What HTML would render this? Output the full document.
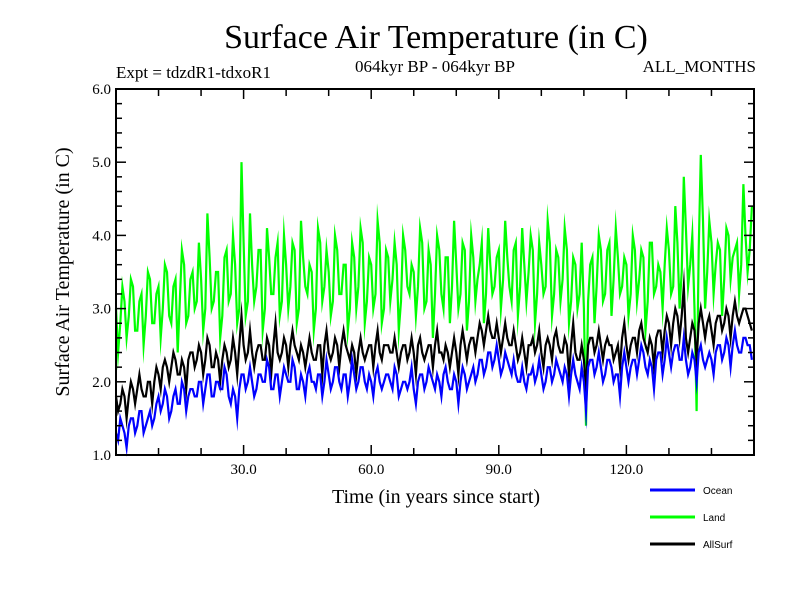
<!DOCTYPE html>
<html><head><meta charset="utf-8"><style>
body{margin:0;background:#fff;}
svg text{font-family:"Liberation Serif",serif;fill:#000;}
</style></head><body>
<svg id="chart" width="800" height="600" viewBox="0 0 800 600" xmlns="http://www.w3.org/2000/svg">
<rect width="800" height="600" fill="#fff"/>
<text x="436" y="48" font-size="34" text-anchor="middle">Surface Air Temperature (in C)</text>
<text x="116" y="78" font-size="17">Expt = tdzdR1-tdxoR1</text>
<text x="435" y="72" font-size="17" text-anchor="middle">064kyr BP - 064kyr BP</text>
<text x="756" y="72" font-size="17" text-anchor="end">ALL_MONTHS</text>
<text x="0" y="0" font-size="20" text-anchor="middle" transform="translate(69,272) rotate(-90)">Surface Air Temperature (in C)</text>
<text x="436" y="503" font-size="20" text-anchor="middle">Time (in years since start)</text>
<g id="series"></g>
<g id="axes"></g>
<g id="legend"></g>
</svg>
<script>
// values at mid-year (A) and start-of-year (B)
const landValues = [2.4,3.3,2.6,3.4,2.7,3.1,2.5,3.5,2.8,3.2,
2.6,3.6,2.9,3.3,2.4,3.8,2.8,3.4,3.0,3.9,
2.7,4.3,3.0,3.5,2.6,3.7,3.1,4.0,2.8,5.0,
2.9,4.3,3.1,3.8,2.7,4.1,3.2,3.7,2.9,4.0,
3.0,3.9,2.8,4.2,3.3,3.6,2.7,4.1,3.1,3.8,
2.9,4.0,3.2,3.6,2.7,3.9,3.0,4.1,2.8,3.7,
3.0,4.2,2.8,3.8,3.1,3.9,2.7,4.0,3.3,3.6,
2.9,4.1,3.0,3.8,2.6,4.0,3.2,3.7,2.8,4.2,
3.0,3.9,2.7,4.0,3.1,3.6,2.8,4.1,3.2,3.7,
3.0,4.2,3.3,3.8,2.9,4.1,3.1,4.0,2.8,3.9,
3.2,4.2,2.9,3.8,3.1,4.1,2.8,3.7,3.0,3.9,
1.4,3.6,2.8,4.0,3.1,3.8,2.9,4.1,3.2,3.7,
2.9,4.0,3.1,3.8,2.7,3.9,3.2,3.6,3.0,4.1,
3.2,4.4,3.0,4.8,3.3,4.0,1.6,5.1,3.0,4.2,
3.2,3.9,2.9,4.1,3.4,3.8,3.2,4.7,3.5,4.4];
const landValuesB = [3.0,2.8,3.1,2.9,3.3,2.7,3.2,2.9,3.4,2.8,
3.3,3.0,3.5,2.8,3.4,3.1,3.6,2.9,3.5,3.1,
3.4,3.0,3.7,3.1,3.5,2.9,3.8,3.2,3.6,3.0,
3.9,3.1,3.6,3.3,3.8,3.0,3.7,3.2,3.9,3.1,
3.6,3.3,3.8,3.0,3.7,3.2,3.5,3.0,3.9,3.3,
3.5,3.1,3.8,3.2,3.6,3.0,3.7,3.3,3.9,3.1,
3.6,3.2,3.9,3.0,3.7,3.4,3.6,3.1,3.8,3.2,
3.5,3.3,3.9,3.1,3.6,3.2,3.8,3.0,3.7,3.3,
3.6,3.2,3.8,3.1,3.7,3.4,3.9,3.2,3.6,3.3,
3.8,3.4,3.7,3.1,3.9,3.3,3.6,3.5,3.8,3.2,
3.6,3.3,3.9,3.2,3.7,3.4,3.8,3.1,3.6,3.2,
3.0,3.1,3.7,3.3,3.8,3.2,3.9,3.4,3.7,3.3,
3.6,3.2,3.8,3.4,3.7,3.1,3.9,3.3,3.5,3.6,
3.8,3.3,3.9,3.5,4.1,3.6,3.0,3.8,4.2,3.5,
3.9,3.6,3.8,3.4,4.0,3.7,3.9,3.6,4.0,3.8];
const oceanValues = [1.2,1.4,1.1,1.5,1.3,1.6,1.3,1.5,1.4,1.7,
1.6,1.9,1.5,1.8,1.7,2.0,1.6,1.9,1.8,2.0,
1.7,2.1,1.8,2.0,1.9,2.2,1.8,1.9,1.5,2.1,
1.9,2.2,1.8,2.1,2.0,2.3,1.9,2.1,1.8,2.2,
2.0,2.3,1.9,2.1,1.8,2.2,2.0,2.1,1.8,2.3,
1.9,2.2,2.0,2.1,1.8,2.3,1.9,2.2,2.0,2.1,
1.8,2.2,1.9,2.1,2.0,2.2,1.8,2.0,1.9,2.2,
1.7,2.1,1.9,2.2,2.0,2.1,1.8,2.2,1.9,2.1,
1.7,2.2,1.9,2.1,2.0,2.3,2.1,2.4,2.2,2.5,
2.1,2.4,2.2,2.3,2.0,2.2,1.9,2.1,2.0,2.3,
1.9,2.2,2.0,2.3,2.1,2.2,1.8,2.3,2.0,2.2,
1.6,2.3,2.1,2.4,2.0,2.3,2.2,2.1,1.8,2.4,
2.0,2.3,2.1,2.5,2.2,2.3,1.9,2.4,2.1,2.6,
2.2,2.5,2.3,2.6,2.1,2.4,2.0,2.5,2.2,2.4,
2.1,2.5,2.3,2.6,2.2,2.7,2.4,2.6,2.5,2.3];
const oceanValuesB = [1.3,1.5,1.3,1.4,1.5,1.4,1.6,1.4,1.6,1.5,
1.8,1.7,1.8,1.6,1.9,1.7,1.9,1.8,1.9,1.8,
2.0,1.9,2.1,1.8,2.0,1.9,2.1,1.7,1.8,1.9,
2.1,2.0,2.0,1.9,2.1,2.0,2.2,1.9,2.1,2.0,
2.1,2.0,2.2,1.9,2.0,2.1,2.0,1.9,2.1,2.0,
2.1,2.0,2.2,1.9,2.1,2.0,2.1,2.0,2.2,1.9,
2.0,2.1,2.0,2.0,2.1,1.9,2.1,1.9,2.0,2.0,
1.9,2.0,2.1,2.0,2.1,1.9,2.0,2.1,2.0,1.9,
2.0,2.0,2.1,2.0,2.2,2.1,2.3,2.2,2.4,2.3,
2.3,2.2,2.3,2.1,2.1,2.0,2.0,2.1,2.2,2.1,
2.1,2.0,2.2,2.1,2.2,2.0,2.1,2.1,2.1,1.9,
2.0,2.2,2.3,2.2,2.2,2.1,2.3,2.0,2.1,2.2,
2.2,2.2,2.3,2.3,2.4,2.1,2.2,2.3,2.4,2.3,
2.4,2.4,2.5,2.3,2.3,2.2,2.3,2.4,2.3,2.3,
2.3,2.4,2.5,2.4,2.5,2.5,2.5,2.4,2.6,2.5];
const allSurfValues = [1.6,1.9,1.5,2.0,1.7,2.1,1.8,2.0,1.7,2.2,
1.9,2.3,2.0,2.4,2.1,2.3,1.9,2.4,2.2,2.5,
2.1,2.6,2.2,2.4,2.0,2.5,2.2,2.6,2.1,2.9,
2.3,2.7,2.2,2.5,2.3,2.6,2.1,2.8,2.3,2.6,
2.2,2.7,2.4,2.5,2.2,2.6,2.3,2.5,2.1,2.7,
2.3,2.6,2.2,2.7,2.4,2.5,2.1,2.6,2.3,2.5,
2.2,2.7,2.3,2.5,2.4,2.6,2.2,2.5,2.3,2.6,
2.1,2.6,2.3,2.5,2.2,2.7,2.4,2.5,2.2,2.6,
2.1,2.7,2.3,2.6,2.4,2.8,2.5,2.9,2.6,2.8,
2.4,2.8,2.5,2.7,2.3,2.6,2.2,2.5,2.4,2.7,
2.2,2.6,2.3,2.7,2.4,2.6,2.1,2.8,2.3,2.5,
1.9,2.6,2.4,2.7,2.3,2.6,2.5,2.4,2.2,2.8,
2.3,2.6,2.4,2.8,2.5,2.6,2.2,2.7,2.4,2.9,
2.5,3.0,2.6,3.3,2.4,2.8,2.3,3.0,2.6,2.9,
2.5,2.9,2.7,3.0,2.6,3.1,2.8,3.0,2.9,2.7];
const allSurfValuesB = [1.8,1.7,1.8,1.8,1.9,1.9,1.9,1.8,2.0,2.0,
2.1,2.2,2.2,2.2,2.3,2.1,2.2,2.3,2.4,2.3,
2.4,2.3,2.5,2.2,2.3,2.3,2.4,2.3,2.4,2.5,
2.5,2.4,2.4,2.4,2.5,2.3,2.5,2.5,2.4,2.4,
2.5,2.5,2.5,2.3,2.4,2.4,2.4,2.3,2.5,2.5,
2.4,2.4,2.5,2.5,2.5,2.3,2.4,2.4,2.4,2.4,
2.5,2.5,2.4,2.5,2.5,2.4,2.4,2.4,2.5,2.4,
2.4,2.5,2.4,2.4,2.5,2.5,2.4,2.3,2.4,2.4,
2.4,2.5,2.5,2.5,2.6,2.6,2.7,2.7,2.7,2.6,
2.6,2.6,2.6,2.5,2.5,2.4,2.4,2.5,2.6,2.5,
2.4,2.5,2.5,2.6,2.5,2.4,2.5,2.5,2.4,2.3,
2.3,2.5,2.6,2.5,2.5,2.5,2.5,2.3,2.5,2.6,
2.5,2.5,2.6,2.7,2.6,2.4,2.5,2.6,2.7,2.7,
2.8,2.8,2.9,2.9,2.6,2.6,2.7,2.8,2.8,2.8,
2.7,2.8,2.9,2.8,2.9,2.9,2.9,2.9,3.0,2.8];
const xTickValues = [30,60,90,120];
const xTickLabels = ["30.0","60.0","90.0","120.0"];
const yTickValues = [1,2,3,4,5,6];
const yTickLabels = ["1.0","2.0","3.0","4.0","5.0","6.0"];
const seriesNames = ["Ocean","Land","AllSurf"];

const NS="http://www.w3.org/2000/svg";
const L=116,R=754,T=89,B=455;
const x=v=>L+(v/150)*(R-L);
const y=v=>B-(v-1)/5*(B-T);
function mk(tag,attrs,parent){const e=document.createElementNS(NS,tag);for(const k in attrs)e.setAttribute(k,attrs[k]);parent.appendChild(e);return e;}

const sg=document.getElementById('series');
function drawSeries(a,b,color,name){
  const pts=[];
  for(let i=0;i<a.length;i++){pts.push([i,b[i]]);pts.push([i+0.5,a[i]]);}
  const d=pts.map((p,i)=>(i?'L':'M')+x(p[0]).toFixed(1)+' '+y(p[1]).toFixed(1)).join(' ');
  const p=mk('path',{d:d,fill:'none',stroke:color,'stroke-width':2.2,'stroke-linejoin':'miter','stroke-miterlimit':20},sg);
  
  
}
drawSeries(landValues,landValuesB,'#00ff00','land-series');
drawSeries(allSurfValues,allSurfValuesB,'#000000','allsurf-series');
drawSeries(oceanValues,oceanValuesB,'#0000ff','ocean-series');

const ag=document.getElementById('axes');
const frame=mk('rect',{x:L,y:T,width:R-L,height:B-T,fill:'none',stroke:'#000','stroke-width':2},ag);


for(let t=10;t<150;t+=10){
  const major=t%30===0, len=major?10:7;
  mk('line',{x1:x(t),x2:x(t),y1:B,y2:B-len,stroke:'#000','stroke-width':1.5},ag);
  mk('line',{x1:x(t),x2:x(t),y1:T,y2:T+len,stroke:'#000','stroke-width':1.5},ag);
}
xTickValues.forEach((v,i)=>{
  const tx=mk('text',{x:x(v),y:B+19,'font-size':15,'text-anchor':'middle'},ag);
  tx.textContent=xTickLabels[i];
  
  
});
for(let k=0;k<=25;k++){
  const v=1+k*0.2, major=k%5===0, len=major?10:6;
  mk('line',{x1:L,x2:L+len,y1:y(v),y2:y(v),stroke:'#000','stroke-width':1.5},ag);
  mk('line',{x1:R,x2:R-len,y1:y(v),y2:y(v),stroke:'#000','stroke-width':1.5},ag);
}
yTickValues.forEach((v,i)=>{
  const tx=mk('text',{x:L-5,y:y(v)+5,'font-size':15,'text-anchor':'end'},ag);
  tx.textContent=yTickLabels[i];
  
  
});

const lg=document.getElementById('legend');
const lcolors=['#0000ff','#00ff00','#000000'];
seriesNames.forEach((n,i)=>{
  const yy=490+i*27;
  const g=mk('g',{},lg);
  
  
  mk('line',{x1:650,x2:695,y1:yy,y2:yy,stroke:lcolors[i],'stroke-width':3},g);
  const t=mk('text',{x:703,y:yy+4,'font-size':10,style:'font-family:"Liberation Sans",sans-serif'},g);
  t.textContent=n;
});
</script>
</body></html>
